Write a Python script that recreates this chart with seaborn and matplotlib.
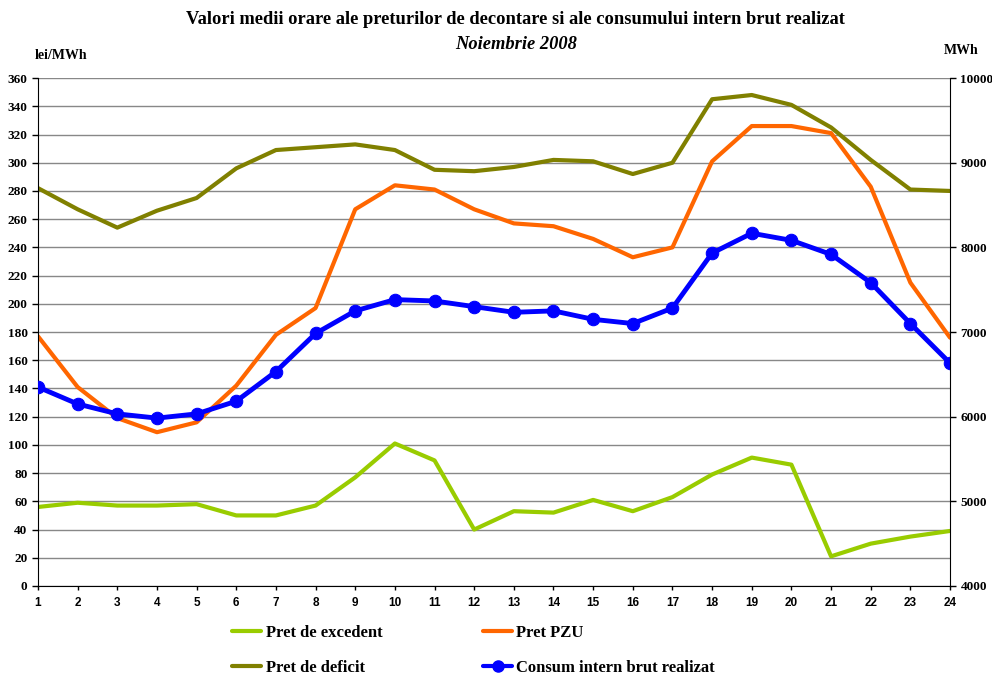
import numpy as np
import pandas as pd
import seaborn as sns
import matplotlib.pyplot as plt
from matplotlib.lines import Line2D

hours = list(range(1, 25))
pret_excedent = [56, 59, 57, 57, 58, 50, 50, 57, 77, 101, 89, 40,
                 53, 52, 61, 53, 63, 79, 91, 86, 21, 30, 35, 39]
pret_pzu = [177, 141, 119, 109, 116, 142, 178, 197, 267, 284, 281, 267,
            257, 255, 246, 233, 240, 301, 326, 326, 321, 283, 215, 176]
pret_deficit = [282, 267, 254, 266, 275, 296, 309, 311, 313, 309, 295, 294,
                297, 302, 301, 292, 300, 345, 348, 341, 325, 302, 281, 280]
consum = [6350, 6150, 6033, 5983, 6033, 6183, 6533, 6983, 7250, 7383, 7367, 7300,
          7233, 7250, 7150, 7100, 7283, 7933, 8167, 8083, 7917, 7583, 7100, 6633]

sns.set_style("white")
plt.rcParams['font.family'] = ['Liberation Serif', 'DejaVu Serif']
plt.rcParams['font.weight'] = 'bold'
plt.rcParams['text.color'] = 'black'
plt.rcParams['xtick.color'] = 'black'
plt.rcParams['ytick.color'] = 'black'

df = pd.DataFrame({"ora": hours, "excedent": pret_excedent, "pzu": pret_pzu,
                   "deficit": pret_deficit, "consum": consum})

c_exc = "#99CC00"
c_pzu = "#FF6600"
c_def = "#808000"
c_con = "#0000FF"

fig = plt.figure(figsize=(9.92, 6.79), dpi=100)
ax = fig.add_axes([0.0383, 0.137, 0.9194, 0.748])

sns.lineplot(data=df, x="ora", y="excedent", color=c_exc, lw=3, ax=ax)
sns.lineplot(data=df, x="ora", y="pzu", color=c_pzu, lw=3, ax=ax)
sns.lineplot(data=df, x="ora", y="deficit", color=c_def, lw=3, ax=ax)

ax2 = ax.twinx()
sns.lineplot(data=df, x="ora", y="consum", color=c_con, lw=3.5, marker="o",
             markersize=9, markeredgecolor=c_con, ax=ax2)

ax.set_xlim(1, 24)
ax.set_ylim(0, 360)
ax.set_yticks(np.arange(0, 361, 20))
ax.set_xticks(hours)
ax2.set_ylim(4000, 10000)
ax2.set_yticks(np.arange(4000, 10001, 1000))

ax.grid(axis="y", color="#888888", lw=1)
ax.set_xlabel("")
ax.set_ylabel("")
ax2.set_ylabel("")

for a in (ax, ax2):
    a.tick_params(labelsize=9.5, length=4, width=1, color="black", direction="out")
    for s in a.spines.values():
        s.set_visible(False)
ax.tick_params(axis="x", bottom=True, length=3, pad=5)
ax.tick_params(axis="y", left=True)
ax2.tick_params(axis="y", right=True)
ax.spines["left"].set_visible(True)
ax.spines["bottom"].set_visible(True)
ax2.spines["right"].set_visible(True)
for s in ("left", "bottom"):
    ax.spines[s].set_color("black")
ax2.spines["right"].set_color("black")
for lbl in ax.get_yticklabels() + ax2.get_yticklabels():
    lbl.set_fontweight("bold")
for lbl in ax.get_xticklabels():
    lbl.set_fontweight("bold")
    lbl.set_family(["Liberation Sans", "DejaVu Sans"])
    lbl.set_fontsize(8.5)

fig.text(0.52, 0.972, "Valori medii orare ale preturilor de decontare si ale consumului intern brut realizat",
         ha="center", va="center", fontsize=13.3, fontweight="bold")
fig.text(0.52, 0.934, "Noiembrie 2008", ha="center", va="center",
         fontsize=13.3, fontweight="bold", style="italic")
fig.text(0.035, 0.918, "lei/MWh", ha="left", va="center", fontsize=10, fontweight="bold")
fig.text(0.986, 0.926, "MWh", ha="right", va="center", fontsize=10, fontweight="bold")

handles = [
    Line2D([], [], color=c_exc, lw=3),
    Line2D([], [], color=c_def, lw=3),
    Line2D([], [], color=c_pzu, lw=3),
    Line2D([], [], color=c_con, lw=3, marker="o", markersize=8),
]
labels = ["Pret de excedent", "Pret de deficit", "Pret PZU", "Consum intern brut realizat"]
fig.legend(handles, labels, ncol=2, loc="lower left", bbox_to_anchor=(0.219, -0.018),
           frameon=False, prop={"weight": "bold", "size": 12}, handlelength=1.75,
           columnspacing=6.05, labelspacing=1.15, handletextpad=0.25)

fig.savefig("out.png", dpi=100)
